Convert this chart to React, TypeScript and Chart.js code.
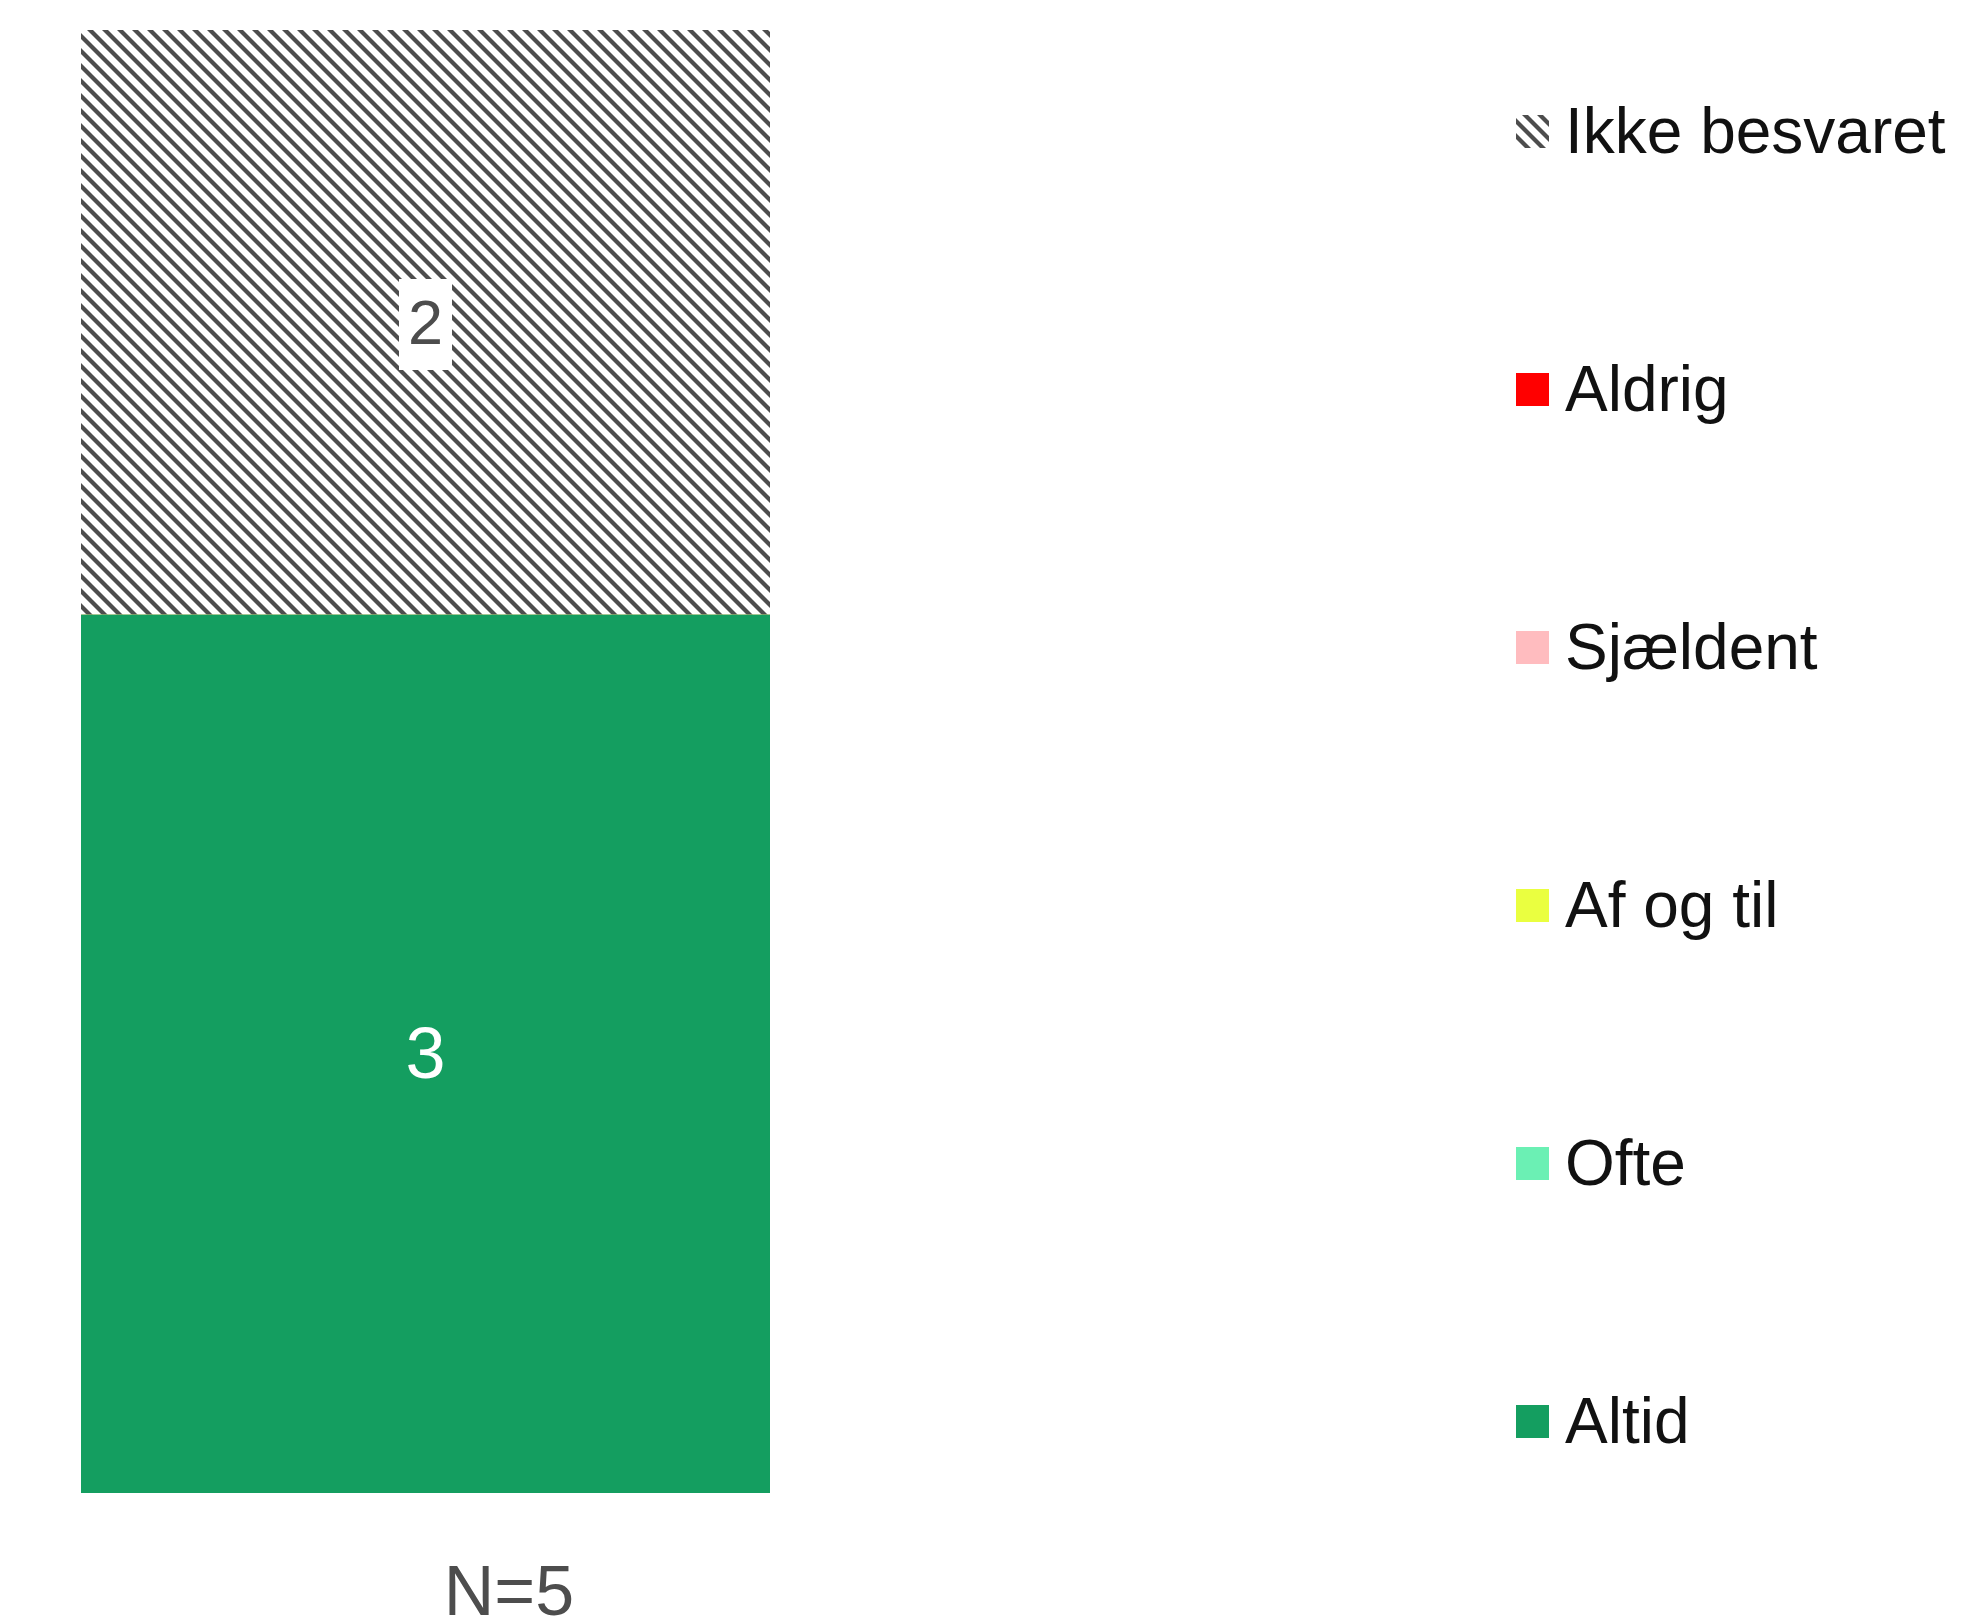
import React, { useEffect, useRef } from "react";
import { Chart, registerables } from "chart.js";

Chart.register(...registerables);

const categories = ["N=5"];
const seriesNames = ["Altid", "Ofte", "Af og til", "Sjældent", "Aldrig", "Ikke besvaret"];
const altid = [3];
const ofte = [0];
const afOgTil = [0];
const sjaeldent = [0];
const aldrig = [0];
const ikkeBesvaret = [2];
const seriesValues = [altid, ofte, afOgTil, sjaeldent, aldrig, ikkeBesvaret];
const yMax = 5;

const W = 1967;
const H = 1619;
const FONT = "'Liberation Sans', Arial, Helvetica, sans-serif";

function makeHatch(): CanvasPattern | string {
  const s = 15;
  const c = document.createElement("canvas");
  c.width = s;
  c.height = s;
  const g = c.getContext("2d");
  if (!g) return "#4d4d4d";
  g.fillStyle = "#ffffff";
  g.fillRect(0, 0, s, s);
  g.strokeStyle = "#4d4d4d";
  g.lineWidth = 4.2;
  for (const k of [-s, 0, s]) {
    g.beginPath();
    g.moveTo(-3, -3 + k);
    g.lineTo(s + 3, s + 3 + k);
    g.stroke();
  }
  const p = g.createPattern(c, "repeat");
  return p || "#4d4d4d";
}

export default function App() {
  const ref = useRef<HTMLCanvasElement | null>(null);

  useEffect(() => {
    const canvas = ref.current;
    if (!canvas) return;
    const hatch = makeHatch();
    const colors: any[] = ["#149e60", "#6bf0b4", "#eaff40", "#ffbcbf", "#ff0000", hatch];
    const labelStyles = [
      { color: "#ffffff", bg: null as string | null, size: 72 },
      { color: "#4d4d4d", bg: "#ffffff", size: 63 },
      { color: "#4d4d4d", bg: "#ffffff", size: 63 },
      { color: "#4d4d4d", bg: "#ffffff", size: 63 },
      { color: "#ffffff", bg: null, size: 63 },
      { color: "#4d4d4d", bg: "#ffffff", size: 63 },
    ];

    const valueLabels = {
      id: "valueLabels",
      afterDatasetsDraw(chart: any) {
        const ctx = chart.ctx;
        chart.data.datasets.forEach((ds: any, di: number) => {
          const meta = chart.getDatasetMeta(di);
          meta.data.forEach((el: any, i: number) => {
            const v = ds.data[i];
            if (!v) return;
            const st = labelStyles[di];
            const { x, y } = el.getCenterPoint();
            ctx.save();
            ctx.font = `${st.size}px ${FONT}`;
            ctx.textAlign = "center";
            ctx.textBaseline = "middle";
            const txt = String(v);
            if (st.bg) {
              const tw = ctx.measureText(txt).width;
              const bw = tw + 18;
              const bh = 91;
              ctx.fillStyle = st.bg;
              ctx.fillRect(Math.round(x - bw / 2), Math.round(y + 2 - bh / 2), Math.round(bw), bh);
            }
            ctx.fillStyle = st.color;
            ctx.fillText(txt, x, y + 4);
            ctx.restore();
          });
        });
      },
    };

    const customLegend = {
      id: "customLegend",
      afterDraw(chart: any) {
        const ctx = chart.ctx;
        const ds = chart.data.datasets;
        const n = ds.length;
        const boxX = 1516;
        const box = 33;
        const textX = 1565;
        const firstY = 131;
        const step = 258;
        ctx.save();
        ctx.font = `64px ${FONT}`;
        ctx.textBaseline = "middle";
        ctx.textAlign = "left";
        for (let k = 0; k < n; k++) {
          const d = ds[n - 1 - k];
          const cy = firstY + k * step;
          ctx.fillStyle = d.backgroundColor;
          ctx.fillRect(boxX, Math.round(cy - box / 2), box, box);
          ctx.fillStyle = "#111111";
          ctx.fillText(d.label, textX, cy + 4);
        }
        ctx.restore();
      },
    };

    const chart = new Chart(canvas, {
      type: "bar",
      data: {
        labels: categories,
        datasets: seriesNames.map((name, i) => ({
          label: name,
          data: seriesValues[i],
          backgroundColor: colors[i],
          borderWidth: 0,
          barPercentage: 1,
          categoryPercentage: 1,
        })),
      },
      options: {
        responsive: false,
        animation: false,
        devicePixelRatio: 1,
        layout: { padding: { left: 81, right: W - 770, top: 30, bottom: 0 } },
        plugins: {
          legend: { display: false },
          tooltip: { enabled: false },
          title: { display: false },
        },
        scales: {
          x: {
            stacked: true,
            grid: { display: false, drawTicks: false },
            border: { display: false },
            ticks: {
              color: "#4d4d4d",
              font: { family: FONT, size: 70 },
              padding: 61,
              labelOffset: 83.5,
              maxRotation: 0,
            },
            afterFit: (scale: any) => {
              scale.height = 126;
            },
          },
          y: {
            stacked: true,
            display: false,
            min: 0,
            max: yMax,
          },
        },
      },
      plugins: [valueLabels, customLegend],
    });
    return () => chart.destroy();
  }, []);

  return (
    <div style={{ position: "absolute", left: 0, top: 0, width: W, height: H, background: "#ffffff" }}>
      <canvas ref={ref} width={W} height={H} style={{ display: "block", width: W, height: H }} />
    </div>
  );
}
